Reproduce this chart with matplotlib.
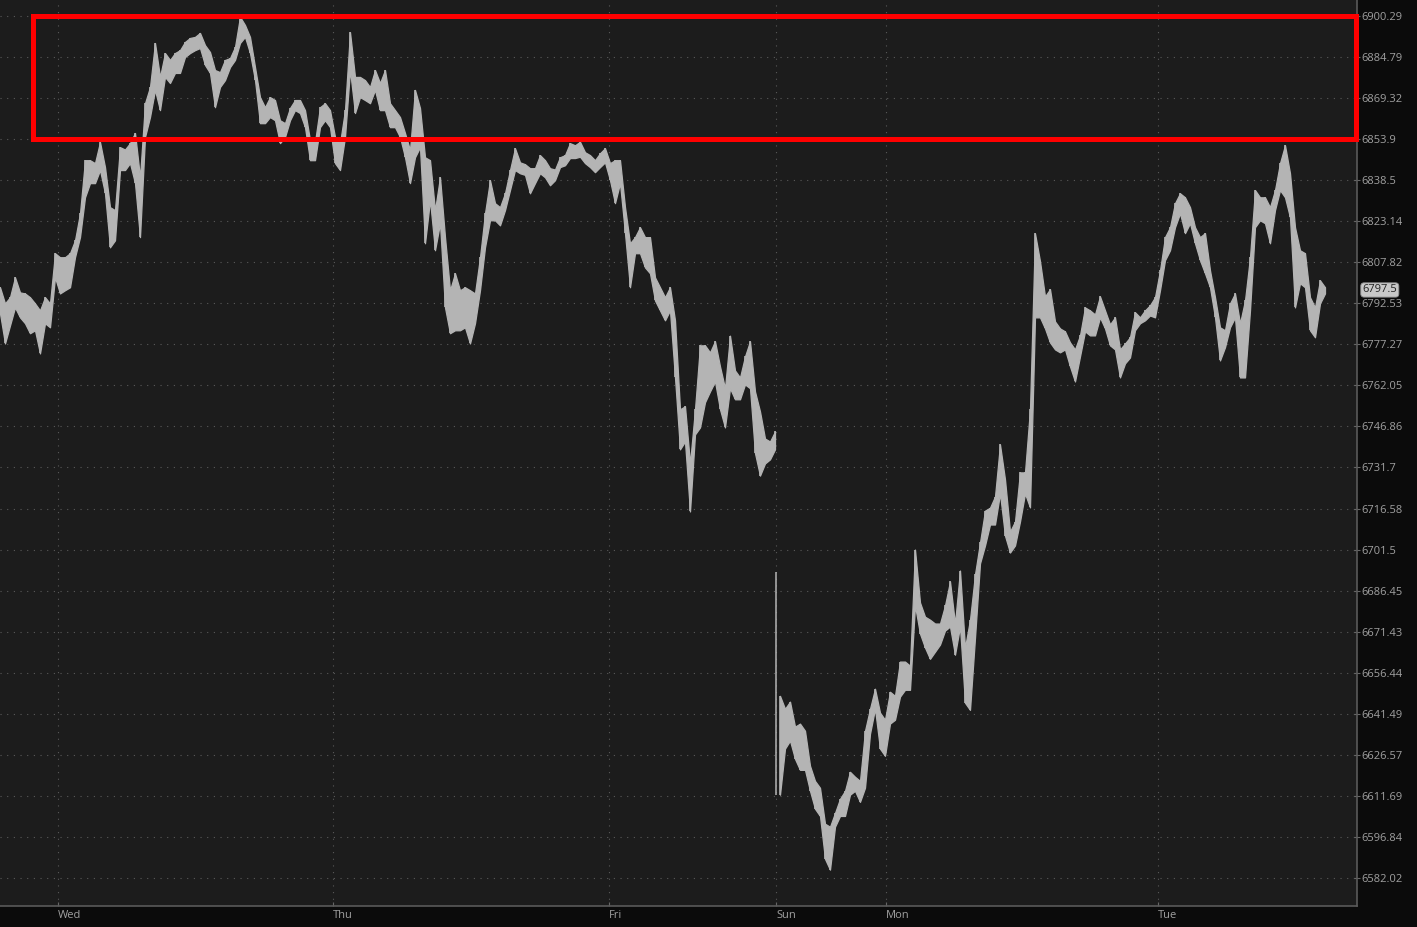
import matplotlib
matplotlib.use('Agg')
import matplotlib.pyplot as plt
import matplotlib.transforms as mtransforms
import numpy as np
from matplotlib.patches import Rectangle
from matplotlib.ticker import NullLocator

# bar highs / lows (one bar per slot, Wed -> Tue)
highs = [
    6798.5, 6792.5, 6794.8, 6802.2, 6796.6, 6796.2, 6794.8, 6792.5, 6789.9, 6794.8,
    6792.5, 6811.2, 6809.7, 6809.7, 6811.2, 6816.0, 6826.1, 6846.0, 6846.0, 6844.9,
    6852.8, 6843.4, 6828.4, 6827.3, 6850.9, 6850.0, 6852.4, 6856.2, 6839.6, 6867.4,
    6873.5, 6890.1, 6877.3, 6886.3, 6883.7, 6886.3, 6887.4, 6890.5, 6892.0, 6892.4,
    6893.9, 6889.3, 6886.7, 6879.9, 6879.1, 6883.7, 6884.4, 6888.6, 6900.0, 6896.9,
    6892.4, 6881.0, 6869.7, 6865.9, 6869.7, 6868.6, 6861.0, 6859.9, 6865.6, 6868.6,
    6868.6, 6864.8, 6853.5, 6852.8, 6865.9, 6867.4, 6864.8, 6854.7, 6852.4, 6864.8,
    6894.2, 6877.3, 6877.3, 6876.1, 6873.5, 6879.9, 6875.0, 6879.9, 6867.4, 6864.8,
    6862.2, 6856.2, 6849.8, 6872.4, 6865.6, 6847.1, 6846.0, 6827.3, 6839.6, 6817.2,
    6797.4, 6803.7, 6797.4, 6798.5, 6797.4, 6796.2, 6809.7, 6826.1, 6838.5, 6829.9,
    6828.4, 6833.6, 6842.3, 6850.5, 6845.2, 6844.5, 6843.0, 6843.0, 6847.9, 6846.0,
    6843.0, 6842.5, 6847.1, 6847.9, 6852.4, 6851.6, 6852.9, 6849.0, 6847.9, 6846.0,
    6848.6, 6850.5, 6844.9, 6846.0, 6846.0, 6828.4, 6814.9, 6817.2, 6820.9, 6817.2,
    6817.2, 6802.2, 6798.5, 6794.8, 6798.5, 6786.2, 6753.2, 6754.3, 6733.2, 6753.2,
    6776.9, 6776.9, 6774.3, 6778.4, 6769.1, 6761.0, 6780.5, 6767.6, 6765.0, 6772.8,
    6778.4, 6759.8, 6752.4, 6742.4, 6741.3, 6745.0, 6648.0, 6643.3, 6645.9, 6636.8,
    6637.9, 6635.3, 6622.6, 6617.1, 6614.6, 6601.6, 6600.5, 6605.5, 6610.6, 6613.5,
    6620.4, 6618.6, 6617.1, 6635.3, 6643.3, 6650.6, 6641.9, 6639.3, 6649.5, 6648.0,
    6660.5, 6660.5, 6659.0, 6701.5, 6682.1, 6676.9, 6675.8, 6674.4, 6674.4, 6681.0,
    6689.8, 6674.4, 6693.8, 6665.6, 6675.8, 6692.4, 6704.1, 6715.8, 6716.9, 6721.0,
    6740.2, 6727.3, 6708.1, 6711.8, 6729.9, 6729.9, 6753.2, 6818.6, 6808.2, 6795.1,
    6797.8, 6785.8, 6783.2, 6782.1, 6778.0, 6775.4, 6780.6, 6791.0, 6789.9, 6788.4,
    6795.1, 6789.9, 6784.7, 6787.3, 6775.4, 6777.6, 6779.9, 6789.2, 6787.3, 6789.9,
    6791.8, 6794.8, 6804.8, 6817.2, 6820.9, 6829.9, 6833.6, 6832.1, 6828.4, 6820.9,
    6817.2, 6818.7, 6804.8, 6794.8, 6783.6, 6782.5, 6792.5, 6796.2, 6785.1, 6793.6,
    6809.7, 6834.8, 6832.1, 6832.1, 6828.4, 6834.8, 6844.9, 6851.6, 6841.1, 6820.9,
    6812.3, 6811.2, 6794.8, 6791.0, 6801.1, 6798.5,
]
lows = [
    6788.8, 6777.6, 6784.3, 6791.0, 6787.3, 6785.1, 6781.4, 6782.5, 6773.9, 6785.1,
    6783.6, 6802.2, 6796.2, 6797.4, 6798.5, 6809.7, 6817.2, 6832.1, 6837.4, 6837.4,
    6842.3, 6833.6, 6813.4, 6816.0, 6842.3, 6842.3, 6844.9, 6837.4, 6817.2, 6854.7,
    6862.2, 6872.4, 6864.8, 6877.3, 6875.0, 6878.8, 6878.8, 6884.8, 6886.3, 6887.4,
    6888.2, 6881.8, 6878.8, 6865.9, 6873.5, 6876.1, 6881.0, 6883.7, 6890.1, 6892.4,
    6886.3, 6876.1, 6859.9, 6859.9, 6862.2, 6861.0, 6852.4, 6854.7, 6861.0, 6864.8,
    6863.7, 6858.4, 6846.0, 6846.0, 6858.4, 6861.0, 6858.4, 6844.9, 6842.3, 6854.7,
    6879.9, 6863.7, 6869.7, 6868.6, 6867.4, 6872.4, 6864.8, 6864.8, 6858.4, 6858.4,
    6854.7, 6847.1, 6837.4, 6847.1, 6850.9, 6814.9, 6831.0, 6812.3, 6822.4, 6791.0,
    6781.4, 6782.5, 6782.5, 6783.6, 6777.6, 6785.1, 6797.4, 6813.4, 6823.5, 6823.5,
    6821.6, 6827.3, 6834.8, 6842.3, 6841.1, 6840.5, 6833.6, 6837.4, 6841.1, 6839.6,
    6836.6, 6838.5, 6843.4, 6844.1, 6846.8, 6846.8, 6847.3, 6844.9, 6843.4, 6841.5,
    6843.4, 6845.2, 6838.5, 6829.9, 6837.4, 6818.7, 6798.5, 6811.2, 6811.2, 6805.9,
    6803.7, 6793.6, 6789.9, 6786.2, 6789.9, 6765.0, 6738.4, 6741.3, 6715.5, 6743.9,
    6746.5, 6755.8, 6759.8, 6763.5, 6753.2, 6746.5, 6761.0, 6756.9, 6756.9, 6762.4,
    6761.0, 6737.0, 6728.7, 6733.2, 6734.7, 6738.4, 6612.1, 6628.8, 6631.7, 6625.1,
    6621.1, 6621.1, 6613.5, 6607.0, 6604.4, 6588.9, 6585.0, 6600.5, 6604.4, 6604.4,
    6612.1, 6613.5, 6609.5, 6614.6, 6634.2, 6643.3, 6628.8, 6626.2, 6637.9, 6639.3,
    6647.7, 6650.2, 6650.2, 6681.0, 6670.7, 6665.6, 6661.5, 6664.1, 6666.7, 6671.8,
    6673.3, 6663.0, 6673.3, 6645.5, 6642.9, 6669.2, 6696.4, 6703.0, 6710.7, 6710.7,
    6722.1, 6706.6, 6700.4, 6703.0, 6711.8, 6722.1, 6717.0, 6787.3, 6787.3, 6783.2,
    6778.0, 6775.4, 6774.3, 6775.4, 6769.1, 6763.5, 6772.8, 6782.1, 6780.6, 6780.6,
    6787.3, 6783.2, 6776.9, 6775.4, 6765.0, 6770.2, 6772.4, 6782.5, 6785.1, 6786.2,
    6788.0, 6787.3, 6797.4, 6808.6, 6812.3, 6820.9, 6826.1, 6818.7, 6822.4, 6814.9,
    6808.6, 6803.7, 6798.5, 6787.3, 6771.3, 6776.2, 6783.6, 6787.3, 6765.0, 6765.0,
    6789.9, 6820.9, 6823.5, 6822.4, 6814.9, 6827.3, 6834.8, 6832.1, 6824.6, 6791.0,
    6800.0, 6798.5, 6782.5, 6779.9, 6792.5, 6796.2,
]
last_price = 6797.5
sunday_open = 156              # first bar after the weekend gap
sunday_spike = (6612.1, 6693.1)  # thin opening print on Sunday (low, high)

price_ticks = [6900.29, 6884.79, 6869.32, 6853.9, 6838.5, 6823.14, 6807.82, 6792.53,
               6777.27, 6762.05, 6746.86, 6731.7, 6716.58, 6701.5, 6686.45, 6671.43,
               6656.44, 6641.49, 6626.57, 6611.69, 6596.84, 6582.02]
day_labels = ['Wed', 'Thu', 'Fri', 'Sun', 'Mon', 'Tue']
day_pos = [11.6, 66.6, 121.8, 155.2, 177.2, 231.6]

# highlighted zone
zone_lo, zone_hi = 6853.9, 6900.29

plt.rcParams['font.family'] = ['Open Sans', 'DejaVu Sans']

fig = plt.figure(figsize=(14.17, 9.27), dpi=100, facecolor='#0b0b0b')
ax = fig.add_axes([0, 21 / 927, 1357 / 1417, 906 / 927])
ax.set_facecolor('#1c1c1c')

idx = np.arange(len(highs))
hi = np.array(highs)
lo = np.array(lows)
bar_color = '#b4b4b4'
# draw before / after the weekend separately so the gap stays open
for sl in [slice(0, sunday_open), slice(sunday_open, len(highs))]:
    ax.fill_between(idx[sl], lo[sl], hi[sl], color=bar_color, linewidth=0.9,
                    edgecolor=bar_color, zorder=3)
ax.vlines(idx, lo, hi, color=bar_color, linewidth=1.2, zorder=3)
ax.vlines([day_pos[3]], sunday_spike[0], sunday_spike[1],
          color=bar_color, linewidth=1.1, zorder=3)

ax.set_yscale('log')
ax.set_ylim(6571.9, 6906.35)
ax.set_xlim(0, 271.4)

ax.yaxis.set_minor_locator(NullLocator())
ax.set_yticks(price_ticks)
ax.set_yticklabels([('%.2f' % v).rstrip('0').rstrip('.') for v in price_ticks])
ax.set_xticks(day_pos)
ax.set_xticklabels(day_labels, ha='left')

ax.yaxis.tick_right()
ax.tick_params(axis='y', colors='#666666', labelcolor='#a0a0a0', labelsize=8,
               direction='inout', length=4, width=0.8, pad=1)
ax.tick_params(axis='x', colors='#666666', labelcolor='#a0a0a0', labelsize=8,
               direction='in', length=3, width=0.8, pad=3)

ax.grid(True, color='#5a5a5a', linestyle=(0, (1, 5)), linewidth=0.8)
for s in ['top', 'left']:
    ax.spines[s].set_visible(False)
for s in ['right', 'bottom']:
    ax.spines[s].set_color('#5a5a5a')
    ax.spines[s].set_linewidth(1.2)

ax.add_patch(Rectangle((6.5, zone_lo), 271.1 - 6.5, zone_hi - zone_lo,
                       fill=False, edgecolor='#ff0000', linewidth=3.6,
                       clip_on=False, zorder=5))

trans = mtransforms.blended_transform_factory(ax.transAxes, ax.transData)
ax.text(1.004, last_price, '%.1f' % last_price, transform=trans, fontsize=8,
        color='#222222', va='center', ha='left',
        bbox=dict(boxstyle='round,pad=0.15,rounding_size=0.3', fc='#c8c8c8',
                  ec='#8a8a8a', lw=0.6))

fig.savefig('out.png', dpi=100, facecolor=fig.get_facecolor())
